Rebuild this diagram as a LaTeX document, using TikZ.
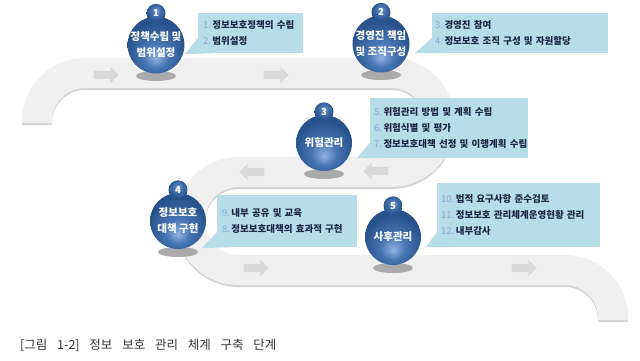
\documentclass[tikz,border=0pt]{standalone}
\usepackage{fontspec}
\setmainfont{Noto Sans CJK KR}
\newfontfamily\capfont[WordSpace=3.5]{Noto Sans CJK KR}
\usetikzlibrary{positioning, shapes.arrows}

\definecolor{roadgray}{RGB}{240,240,240}
\definecolor{roadshade}{RGB}{212,212,212}
\definecolor{arrowgray}{RGB}{217,217,217}
\definecolor{callblue}{RGB}{183,222,232}
\definecolor{numblue}{RGB}{140,168,220}
\definecolor{textnavy}{RGB}{28,38,68}
\definecolor{balldark}{RGB}{40,82,140}
\definecolor{ballmid}{RGB}{72,118,180}
\definecolor{balllight}{RGB}{145,178,226}
\definecolor{dropgray}{RGB}{170,170,170}

\pgfdeclareradialshading{ballshade}{\pgfpoint{0bp}{-12bp}}{color(0bp)=(balllight); color(11bp)=(ballmid); color(26bp)=(balldark); color(50bp)=(balldark)}
\pgfdeclareradialshading{numshade}{\pgfpoint{0bp}{8bp}}{color(0bp)=(ballmid!60!white); color(10bp)=(ballmid); color(25bp)=(balldark); color(50bp)=(balldark)}

\newcommand{\stepno}[1]{\textcolor{numblue}{\mdseries #1}\,}

\begin{document}
\begin{tikzpicture}[
x=1pt, y=-1pt,
road/.style={line width=30pt, draw=roadgray, rounded corners=48pt},
roadshadow/.style={line width=30pt, draw=roadshade, rounded corners=48pt},
flowarrow/.style={single arrow, fill=arrowgray, inner sep=4pt, minimum height=25pt, single arrow head extend=4pt},
ball/.style={circle, shading=ballshade, minimum size=56pt, inner sep=0pt, align=center, text=white, font=\fontsize{10.5}{16}\selectfont\bfseries},
numdot/.style={circle, shading=numshade, minimum size=19pt, inner sep=0pt, text=white, font=\fontsize{9.5}{9.5}\selectfont\bfseries},
callout/.style={fill=callblue, align=left, inner ysep=0pt, text=textnavy, font=\fontsize{9.5}{16}\selectfont\bfseries},
pointer/.style={fill=callblue}
]
\fill[white] (0,0) rectangle (640,360);
\useasboundingbox (0,0) rectangle (640,360);

% road
\draw[roadshadow, yshift=-2pt] (37,123) -- (37,73) -- (439.5,73) -- (439.5,172) -- (190.5,172) -- (190.5,270) -- (613,270) -- (613,320);
\draw[road] (37,123) -- (37,73) -- (439.5,73) -- (439.5,172) -- (190.5,172) -- (190.5,270) -- (613,270) -- (613,320);

% direction arrows
\node[flowarrow] (a1) at (104,75) {};
\node[flowarrow] (a2) at (274,75) {};
\node[flowarrow, shape border rotate=180] (a3) at (378,171) {};
\node[flowarrow, shape border rotate=180] (a4) at (254,172) {};
\node[flowarrow] (a5) at (254,268) {};
\node[flowarrow] (a6) at (522,268) {};

% ball shadows
\fill[dropgray] (156,76) ellipse [x radius=20, y radius=5];
\fill[dropgray] (381,75) ellipse [x radius=20, y radius=5];
\fill[dropgray] (324,174) ellipse [x radius=20, y radius=5];
\fill[dropgray] (178,252) ellipse [x radius=20, y radius=5];
\fill[dropgray] (393,268) ellipse [x radius=20, y radius=5];

% callouts
\node[callout, minimum width=105pt, minimum height=40pt, text width=95pt, inner xsep=5pt] (c1) at (250.5,33) {\stepno{1.}정보보호정책의 수립\\\stepno{2.}범위설정};
\node[callout, minimum width=176pt, minimum height=40pt, text width=170pt, inner xsep=3pt] (c2) at (520,33) {\stepno{3.}경영진 참여\\\stepno{4.}정보보호 조직 구성 및 자원할당};
\node[callout, minimum width=158pt, minimum height=60pt, text width=150pt, inner xsep=4pt] (c3) at (449,128) {\stepno{5.}위험관리 방법 및 계획 수립\\\stepno{6.}위험식별 및 평가\\\mbox{\stepno{7.}정보보호대책 선정 및 이행계획 수립}};
\node[callout, minimum width=140pt, minimum height=52pt, text width=130pt, inner xsep=5pt] (c4) at (287,221) {\stepno{9.}내부 공유 및 교육\\\stepno{8.}정보보호대책의 효과적 구현};
\node[callout, minimum width=163pt, minimum height=64pt, text width=155pt, inner xsep=4pt] (c5) at (518.5,215) {\stepno{10.}법적 요구사항 준수검토\\\stepno{11.}정보보호 관리체계운영현황 관리\\\stepno{12.}내부감사};

\coordinate (t1) at ([shift={(-13pt,-1pt)}]c1.south west);
\coordinate (t2) at ([shift={(-17pt,0pt)}]c2.south west);
\coordinate (t3) at ([shift={(-13pt,0pt)}]c3.south west);
\coordinate (t4) at ([shift={(-15pt,-1pt)}]c4.south west);
\coordinate (t5) at ([shift={(-11pt,0pt)}]c5.south west);
\fill[pointer] ([yshift=15pt]c1.south west) -- (t1) -- ([xshift=14pt]c1.south west) -- cycle;
\fill[pointer] ([yshift=15pt]c2.south west) -- (t2) -- ([xshift=14pt]c2.south west) -- cycle;
\fill[pointer] ([yshift=15pt]c3.south west) -- (t3) -- ([xshift=14pt]c3.south west) -- cycle;
\fill[pointer] ([yshift=15pt]c4.south west) -- (t4) -- ([xshift=14pt]c4.south west) -- cycle;
\fill[pointer] ([yshift=15pt]c5.south west) -- (t5) -- ([xshift=14pt]c5.south west) -- cycle;

% steps
\node[ball] (b1) at (156,45) {정책수립 및\\범위설정};
\node[ball] (b2) at (381,44) {경영진 책임\\및 조직구성};
\node[ball] (b3) at (324,143) {위험관리};
\node[ball] (b4) at (178,221) {정보보호\\대책 구현};
\node[ball] (b5) at (393,237) {사후관리};
\node[numdot] (n1) at ([yshift=3pt]b1.north) {1};
\node[numdot] (n2) at ([yshift=3pt]b2.north) {2};
\node[numdot] (n3) at ([yshift=3pt]b3.north) {3};
\node[numdot] (n4) at ([yshift=3pt]b4.north) {4};
\node[numdot] (n5) at ([yshift=3pt]b5.north) {5};

% caption
\node[anchor=west, inner sep=0pt, text=black!80, font=\capfont\fontsize{12.5}{13}\selectfont] (cap) at (20,345) {[그림 1-2] 정보 보호 관리 체계 구축 단계};
\end{tikzpicture}
\end{document}
